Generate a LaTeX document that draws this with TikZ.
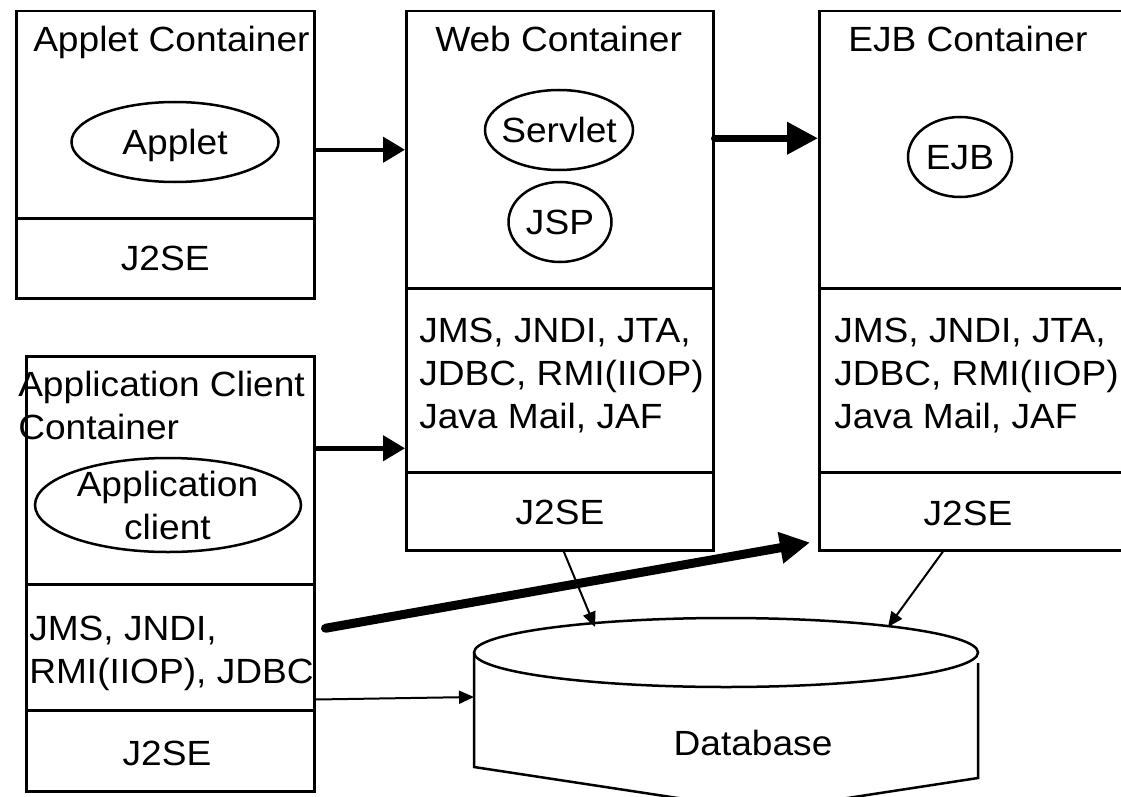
\documentclass[tikz,border=0pt]{standalone}
\usepackage{fontspec}
\setmainfont{Liberation Sans}[FakeStretch=1.06]
\usetikzlibrary{arrows.meta,shapes.geometric}

\begin{document}
\begin{tikzpicture}[
            x = 1pt, y = -1pt, % one unit per pixel, y going down
            line width = 2.5pt, % line style
            font = \fontsize{35}{43}\selectfont,
            every label/.style = {text depth=0pt},
            part/.style = {draw, rectangle, inner sep=0pt, anchor=north west},
            comp/.style = {draw, ellipse, inner sep=0pt},
            title/.style = {inner sep=0pt, anchor=base west},
            api/.style = {inner sep=0pt, anchor=north west, align=left},
            smallarrow/.style = {-{Triangle[length=15pt,width=13pt]}, line width=2pt},
            midarrow/.style = {-{Triangle[length=22pt,width=25pt]}, line width=4.5pt, line cap=round},
            bigarrow/.style = {-{Triangle[length=31pt,width=31pt]}, line width=7pt, line cap=round},
            hugearrow/.style = {-{Triangle[length=30pt,width=30pt]}, line width=9pt, line cap=round}
        ]
\useasboundingbox (0,0) rectangle (1121,797);
\clip (0,0) rectangle (1121,797);

% applet container
\node[part, minimum width=298, minimum height=207] (appletup) at (15,10) {};
\node[part, minimum width=298, minimum height=80] (appletjse) at (15,217) {J2SE};
\node[title] (applettitle) at (32,52) {Applet Container};
\node[comp, minimum width=207, minimum height=80, label=center:Applet] (applet) at (175,142) {};

% web container
\node[part, minimum width=307, minimum height=277] (webup) at (405,10) {};
\node[part, minimum width=307, minimum height=184] (webapi) at (405,287) {};
\node[part, minimum width=307, minimum height=78] (webjse) at (405,471) {};
\node (webjsetext) [anchor=base] at (560,524) {J2SE};
\node[title] (webtitle) at (434,52) {Web Container};
\node[comp, minimum width=148, minimum height=80, label=center:Servlet] (servlet) at (559,130) {};
\node[comp, minimum width=103, minimum height=80, label=center:JSP] (jsp) at (560,222) {};
\node[api] (webapitext) at (418,317) {JMS, JNDI, JTA,\\JDBC, RMI(IIOP)\\Java Mail, JAF};

% ejb container
\node[part, minimum width=320, minimum height=277] (ejbup) at (818,10) {};
\node[part, minimum width=320, minimum height=184] (ejbapi) at (818,287) {};
\node[part, minimum width=320, minimum height=78] (ejbjse) at (818,471) {};
\node (ejbjsetext) [anchor=base] at (968,525) {J2SE};
\node[title] (ejbtitle) at (847,52) {EJB Container};
\node[comp, minimum width=104, minimum height=80, label=center:EJB] (ejb) at (960,157) {};
\node[api] (ejbapitext) at (833,317) {JMS, JNDI, JTA,\\JDBC, RMI(IIOP)\\Java Mail, JAF};

% application client container
\node[part, minimum width=288, minimum height=228] (appup) at (25,355) {};
\node[part, minimum width=288, minimum height=126] (appapi) at (25,583) {};
\node[part, minimum width=288, minimum height=81] (appjse) at (25,709) {};
\node (appjsetext) [anchor=base] at (167,765) {J2SE};
\node[api] (apptitle) at (17,370) {Application Client\\Container};
\node[comp, minimum width=266, minimum height=94] (appclient) at (168,505) {};
\node[align=center, inner sep=0pt, anchor=north] (appclienttext) at (167.5,469.5) {Application\\client};
\node[api] (appapitext) at (28,615) {JMS, JNDI,\\RMI(IIOP), JDBC};

% database
\draw (726,652.5) ellipse [x radius=252, y radius=34.5];
\draw (474,652.5) -- (474,767) -- (763,811) -- (978,778) -- (978,663);
\node (db) [anchor=base] at (753,755) {Database};
\coordinate (dbside) at (474,697);
\coordinate (dbtopa) at (595,627);
\coordinate (dbtopb) at (888,627);

\draw[midarrow] (appletup.east |- webup.west) -- (webup.west);
\draw[bigarrow] ([yshift=11.5pt]webup.east) -- ([yshift=11.5pt]ejbup.west);
\draw[midarrow] ([yshift=22pt]appup.east) -- ([yshift=22pt]webapi.west |- appup.east);
\draw[hugearrow] ([shift={(10pt,19pt)}]appapi.east) -- ([shift={(-8pt,9pt)}]ejbjse.south west);
\draw[smallarrow] ([yshift=12pt]appapi.south east) -- (dbside);
\draw[smallarrow] ([xshift=4pt]webjse.south) -- (dbtopa);
\draw[smallarrow] ([xshift=125pt]ejbjse.south west) -- (dbtopb);

\end{tikzpicture}
\end{document}
